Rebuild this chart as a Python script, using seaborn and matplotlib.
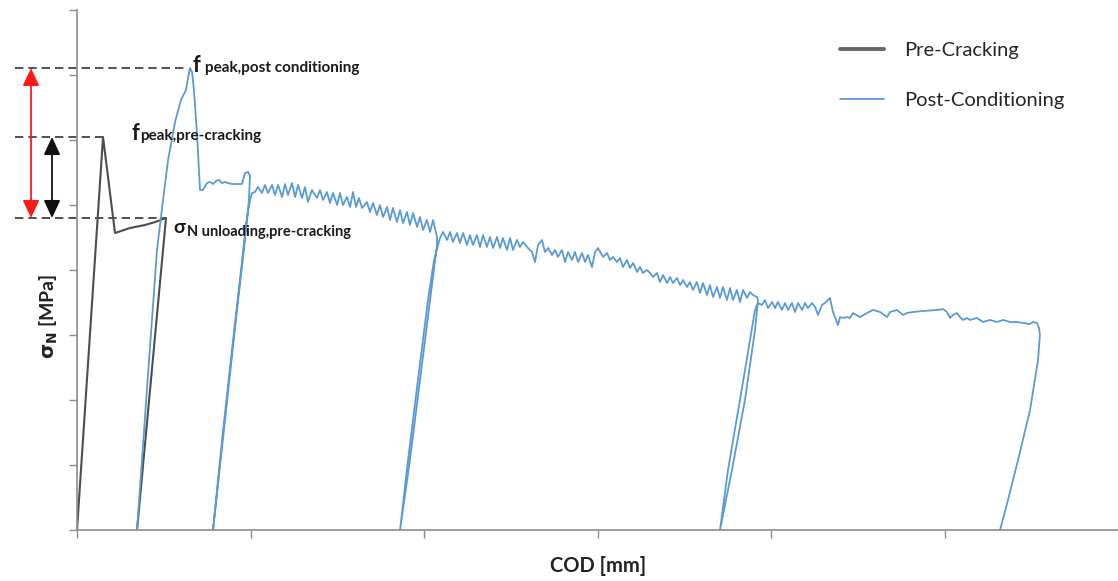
import numpy as np
import pandas as pd
import seaborn as sns
import matplotlib.pyplot as plt

sns.set_theme(style="white")
plt.rcParams['font.family'] = ['Lato', 'DejaVu Sans']

# ---------------- data (COD in mm, sigma_N in MPa) ----------------
pre_cod = [0.000, 0.150, 0.219, 0.305, 0.392, 0.450, 0.513, 0.346]
pre_sigma = [0.000, 6.046, 4.569, 4.646, 4.692, 4.738, 4.800, 0.000]

post_load_cod = [0.346, 0.403, 0.461, 0.496, 0.525, 0.565, 0.599, 0.628, 0.640, 0.651,
                 0.663, 0.674, 0.692, 0.709]
post_load_sig = [0.000, 2.154, 4.308, 5.077, 5.692, 6.277, 6.615, 6.769, 6.954, 7.108,
                 7.046, 6.769, 6.077, 5.231]

soft1_cod = [0.726, 0.749, 0.767, 0.784, 0.801, 0.818, 0.836, 0.853, 0.870, 0.893,
             0.951, 0.968, 0.986, 0.997]
soft1_sig = [5.231, 5.338, 5.354, 5.323, 5.369, 5.385, 5.338, 5.354, 5.338, 5.323,
             5.323, 5.492, 5.508, 5.446]

cycle1_cod = [0.991, 0.968, 0.916, 0.853, 0.784, 0.836, 0.893, 0.939, 0.974, 0.997, 1.009]
cycle1_sig = [5.077, 4.462, 3.231, 1.692, 0.000, 1.385, 2.769, 3.846, 4.692, 5.077, 5.185]

soft2_cod = [1.026, 1.043, 1.066, 1.084, 1.101, 1.124, 1.141, 1.159, 1.182, 1.199,
             1.216, 1.239, 1.257, 1.274, 1.297, 1.314, 1.331, 1.354, 1.383, 1.401,
             1.418, 1.441, 1.458, 1.476, 1.499, 1.516, 1.533, 1.556, 1.574, 1.591,
             1.608, 1.625, 1.643, 1.671, 1.689, 1.706, 1.729, 1.746, 1.764, 1.787,
             1.804, 1.821, 1.844, 1.862, 1.879, 1.902, 1.919, 1.937, 1.960, 1.977,
             1.994, 2.017, 2.035, 2.052, 2.075]
soft2_sig = [5.200, 5.277, 5.185, 5.308, 5.185, 5.308, 5.154, 5.308, 5.123, 5.323,
             5.154, 5.338, 5.123, 5.308, 5.108, 5.277, 5.046, 5.231, 5.108, 5.231,
             5.077, 5.200, 5.031, 5.185, 5.000, 5.185, 5.000, 5.123, 4.969, 5.200,
             4.969, 5.108, 4.954, 5.046, 4.892, 5.031, 4.846, 5.000, 4.815, 4.969,
             4.769, 4.954, 4.738, 4.923, 4.723, 4.892, 4.692, 4.877, 4.662, 4.815,
             4.615, 4.769, 4.585, 4.769, 4.508]

cycle2_cod = [2.075, 2.035, 1.977, 1.919, 1.862, 1.908, 1.965, 2.023, 2.058, 2.081, 2.092]
cycle2_sig = [4.385, 3.538, 2.308, 1.077, 0.000, 1.077, 2.308, 3.538, 4.154, 4.385, 4.492]

soft3_cod = [2.110, 2.133, 2.150, 2.167, 2.190, 2.207, 2.225, 2.248, 2.265, 2.282,
             2.305, 2.323, 2.340, 2.363, 2.380, 2.398, 2.421, 2.438, 2.455, 2.478,
             2.496, 2.513, 2.536, 2.553, 2.571, 2.599, 2.623, 2.640, 2.657, 2.680,
             2.697, 2.715, 2.738, 2.755, 2.772, 2.795, 2.813, 2.830, 2.853, 2.870,
             2.888, 2.911, 2.928, 2.945, 2.968, 2.986, 3.003, 3.032, 3.055, 3.072,
             3.089, 3.112, 3.130, 3.147, 3.170, 3.187, 3.205, 3.228, 3.245, 3.262,
             3.285, 3.303, 3.320, 3.343, 3.360, 3.378, 3.401, 3.418, 3.435, 3.458,
             3.476, 3.493, 3.516, 3.533, 3.550, 3.573, 3.591, 3.608, 3.631, 3.648,
             3.666, 3.689, 3.706, 3.723, 3.746, 3.764, 3.781, 3.804, 3.821, 3.839,
             3.862, 3.879, 3.896, 3.919, 3.925]
soft3_sig = [4.585, 4.462, 4.585, 4.431, 4.569, 4.415, 4.569, 4.385, 4.538, 4.385,
             4.538, 4.354, 4.538, 4.354, 4.508, 4.338, 4.508, 4.338, 4.492, 4.308,
             4.492, 4.308, 4.462, 4.354, 4.431, 4.338, 4.277, 4.123, 4.385, 4.462,
             4.277, 4.338, 4.231, 4.308, 4.200, 4.308, 4.123, 4.277, 4.154, 4.277,
             4.123, 4.262, 4.123, 4.231, 4.046, 4.277, 4.338, 4.200, 4.262, 4.154,
             4.200, 4.123, 4.185, 4.046, 4.154, 4.031, 4.108, 3.969, 4.046, 3.954,
             4.000, 3.954, 3.892, 3.954, 3.815, 3.923, 3.800, 3.892, 3.800, 3.877,
             3.769, 3.846, 3.738, 3.815, 3.692, 3.815, 3.646, 3.800, 3.615, 3.769,
             3.585, 3.738, 3.569, 3.738, 3.538, 3.723, 3.538, 3.692, 3.508, 3.692,
             3.569, 3.662, 3.615, 3.585, 3.538]

cycle3_cod = [3.908, 3.850, 3.775, 3.706, 3.752, 3.821, 3.879, 3.908, 3.925]
cycle3_sig = [3.077, 2.000, 0.923, 0.000, 0.923, 2.000, 2.923, 3.385, 3.492]

soft4_cod = [3.948, 3.965, 3.983, 4.006, 4.023, 4.040, 4.063, 4.081, 4.098, 4.121,
             4.138, 4.156, 4.179, 4.196, 4.213, 4.236, 4.254, 4.271, 4.294, 4.311,
             4.340, 4.357, 4.386, 4.398, 4.415, 4.438, 4.455, 4.473, 4.513, 4.553,
             4.588, 4.628, 4.669, 4.686, 4.726, 4.761, 4.784, 4.818, 4.876, 4.957,
             4.991, 5.014, 5.032, 5.049, 5.072, 5.089, 5.107, 5.130, 5.147, 5.187,
             5.222, 5.262, 5.303, 5.337, 5.378, 5.418, 5.452, 5.493, 5.510, 5.533,
             5.545, 5.550]
soft4_sig = [3.462, 3.538, 3.415, 3.508, 3.415, 3.508, 3.385, 3.492, 3.385, 3.492,
             3.354, 3.492, 3.385, 3.492, 3.415, 3.492, 3.431, 3.308, 3.462, 3.492,
             3.569, 3.354, 3.154, 3.277, 3.262, 3.277, 3.262, 3.338, 3.277, 3.338,
             3.385, 3.354, 3.277, 3.354, 3.385, 3.308, 3.338, 3.354, 3.369, 3.385,
             3.400, 3.354, 3.262, 3.308, 3.338, 3.277, 3.231, 3.262, 3.231, 3.262,
             3.200, 3.231, 3.200, 3.231, 3.200, 3.200, 3.185, 3.169, 3.200, 3.185,
             3.108, 3.000]

final_cod = [5.539, 5.493, 5.424, 5.366, 5.320]
final_sig = [2.615, 1.846, 1.077, 0.462, 0.000]

# reference levels: f_peak,post / f_peak,pre / sigma_N unloading,pre
ref_levels = [7.108, 6.046, 4.800]
ref_ends = [0.640, 0.150, 0.513]
ref_start = -0.357

series_labels = ["Pre-Cracking", "Post-Conditioning"]

# ---------------- build tables ----------------
post_cod = (post_load_cod + soft1_cod + cycle1_cod + soft2_cod + cycle2_cod
            + soft3_cod + cycle3_cod + soft4_cod + final_cod)
post_sig = (post_load_sig + soft1_sig + cycle1_sig + soft2_sig + cycle2_sig
            + soft3_sig + cycle3_sig + soft4_sig + final_sig)
pre_df = pd.DataFrame({"cod": pre_cod, "sigma": pre_sigma})
post_df = pd.DataFrame({"cod": post_cod, "sigma": post_sig})

W, H = 1118, 581
fig = plt.figure(figsize=(W / 100, H / 100), dpi=100)
ax = fig.add_axes([77 / W, 51 / H, 1041 / W, 520 / H])

blue = "#5b9bd5"
gray = "#4d4d4d"

sns.lineplot(data=pre_df, x="cod", y="sigma", sort=False, estimator=None,
             color=gray, lw=1.5, ax=ax, label=series_labels[0])
sns.lineplot(data=post_df, x="cod", y="sigma", sort=False, estimator=None,
             color=blue, lw=1.3, ax=ax, label=series_labels[1])

ax.set_xlim(0, 6)
ax.set_ylim(0, 8)
ax.set_xticks(range(0, 6))
ax.set_yticks(range(0, 9))
ax.set_xticklabels([])
ax.set_yticklabels([])
ax.tick_params(axis="both", direction="out", length=6, width=1.0,
               color="#8c8c8c", left=True, bottom=True)
for s in ["top", "right"]:
    ax.spines[s].set_visible(False)
for s in ["left", "bottom"]:
    ax.spines[s].set_color("#8c8c8c")
    ax.spines[s].set_linewidth(1.2)

# dashed reference lines
ax.hlines(ref_levels, ref_start, ref_ends, colors="#333333", linestyles=(0, (5, 3)),
          lw=1.2, clip_on=False, zorder=1)

# double arrows
ax.annotate("", xy=(-0.265, ref_levels[0]), xytext=(-0.265, ref_levels[2]),
            arrowprops=dict(arrowstyle="<|-|>,head_length=0.6,head_width=0.28",
                            color="#ff1a1a", lw=1.3, shrinkA=0, shrinkB=0,
                            mutation_scale=18),
            annotation_clip=False)
ax.annotate("", xy=(-0.144, ref_levels[1]), xytext=(-0.144, ref_levels[2]),
            arrowprops=dict(arrowstyle="<|-|>,head_length=0.6,head_width=0.28",
                            color="#111111", lw=1.3, shrinkA=0, shrinkB=0,
                            mutation_scale=18),
            annotation_clip=False)

# annotations
tc = "#1a1a1a"
ax.text(0.663, 7.046, "f", fontsize=15.5, fontweight="bold", color=tc, va="baseline")
ax.text(0.738, 7.046, "peak,post conditioning", fontsize=11, fontweight="bold",
        color=tc, va="baseline")
ax.text(0.317, 6.0, "f", fontsize=15.5, fontweight="bold", color=tc, va="baseline")
ax.text(0.365, 6.0, "peak,pre-cracking", fontsize=11, fontweight="bold",
        color=tc, va="baseline")
ax.text(0.553, 4.569, "σ", fontsize=14, fontweight="bold", color=tc, va="baseline")
ax.text(0.632, 4.523, "N unloading,pre-cracking", fontsize=10.5, fontweight="bold",
        color=tc, va="baseline")

# axis labels
ax.set_xlabel("COD [mm]", fontsize=14.5, fontweight="bold", color="#222222")
ax.xaxis.set_label_coords(0.5005, -0.05)
ax.set_ylabel(r"$\mathbf{\sigma_N}$ [MPa]", fontsize=14, fontweight="bold", color="#222222")
ax.yaxis.set_label_coords(-0.016, 0.41)

# legend
leg = ax.legend(loc="upper left", bbox_to_anchor=(840 / W, 1 - 42 / H),
                bbox_transform=fig.transFigure, frameon=False, fontsize=14.5,
                handlelength=2.2, handletextpad=1.0, labelspacing=1.65,
                borderpad=0, borderaxespad=0)
leg.get_lines()[0].set_linewidth(2.8)
leg.get_lines()[0].set_color("#666666")

fig.savefig("out.png", dpi=100)
